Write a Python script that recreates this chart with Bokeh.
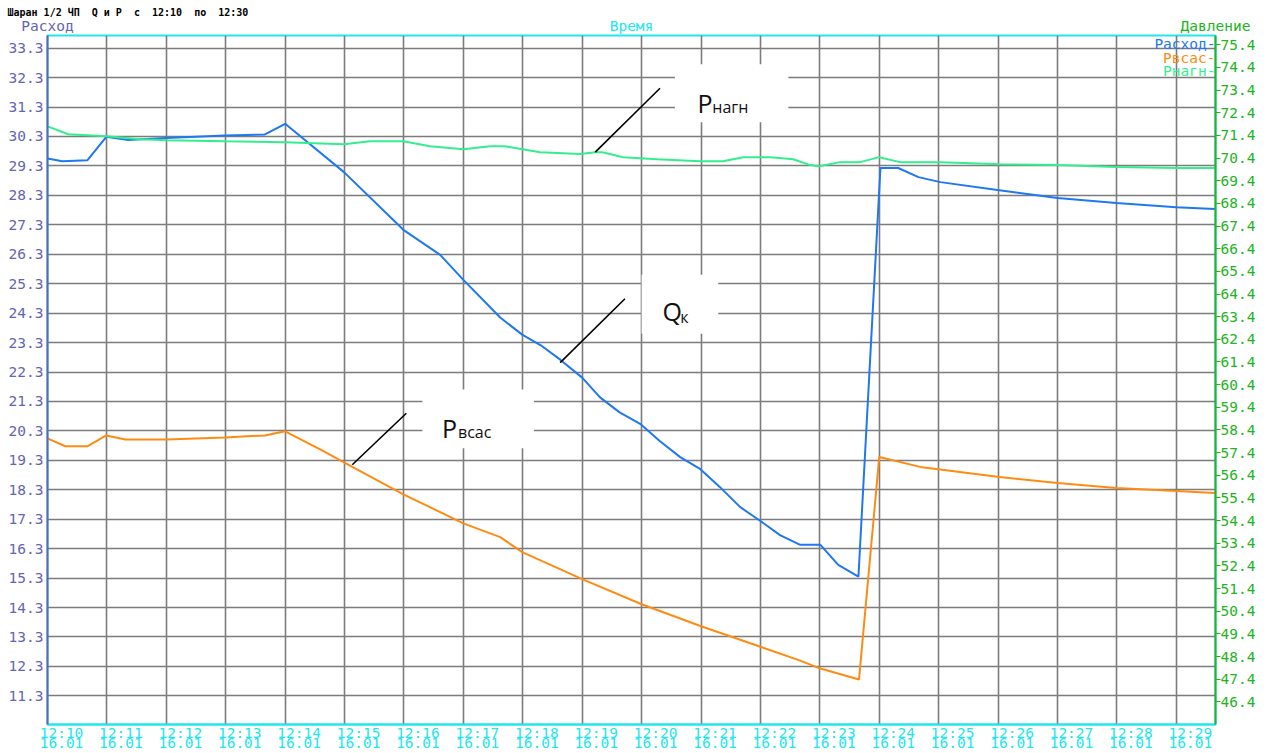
from bokeh.plotting import figure
from bokeh.layouts import column
from bokeh.models import (Range1d, LinearAxis, FixedTicker, CustomJSTickFormatter,
                          PrintfTickFormatter, Label)
from bokeh.embed import file_html
from bokeh.resources import INLINE

# ---------------- data ----------------
NB = "\u00a0"
title_text = f"Шаран 1/2 ЧП {NB}Q и P {NB}с {NB}12:10 {NB}по {NB}12:30"
x_title = "Время"
left_title = "Расход"
right_title = "Давление"
series_names = ["Расход-", "Рвсас-", "Рнагн-"]
time_labels = ["12:10", "12:11", "12:12", "12:13", "12:14", "12:15", "12:16", "12:17",
               "12:18", "12:19", "12:20", "12:21", "12:22", "12:23", "12:24", "12:25",
               "12:26", "12:27", "12:28", "12:29"]
date_labels = ["16.01"] * 20
left_ticks = [11.3, 12.3, 13.3, 14.3, 15.3, 16.3, 17.3, 18.3, 19.3, 20.3, 21.3, 22.3,
              23.3, 24.3, 25.3, 26.3, 27.3, 28.3, 29.3, 30.3, 31.3, 32.3, 33.3]
right_ticks = [46.4, 47.4, 48.4, 49.4, 50.4, 51.4, 52.4, 53.4, 54.4, 55.4, 56.4, 57.4,
               58.4, 59.4, 60.4, 61.4, 62.4, 63.4, 64.4, 65.4, 66.4, 67.4, 68.4, 69.4,
               70.4, 71.4, 72.4, 73.4, 74.4, 75.4]

# minutes after 12:10
q_t = [0.0, 0.25, 0.67, 0.99, 1.36, 2.0, 2.99, 3.66, 4.0, 4.99, 5.99, 6.61, 7.0, 7.62,
       7.99, 8.31, 8.63, 9.0, 9.30, 9.63, 9.99, 10.31, 10.65, 10.99, 11.32, 11.66, 12.0,
       12.33, 12.67, 13.01, 13.31, 13.65, 14.02, 14.32, 14.66, 15.03, 15.99, 17.0, 17.99,
       19.0, 19.65]
q_v = [29.55, 29.46, 29.49, 30.29, 30.18, 30.25, 30.33, 30.37, 30.73, 29.09, 27.13, 26.28,
       25.43, 24.15, 23.57, 23.20, 22.72, 22.11, 21.44, 20.93, 20.52, 19.95, 19.41, 19.0,
       18.39, 17.71, 17.24, 16.76, 16.43, 16.43, 15.75, 15.35, 29.23, 29.23, 28.92, 28.75,
       28.48, 28.21, 28.04, 27.90, 27.84]

ps_t = [0.0, 0.30, 0.67, 0.99, 1.31, 2.0, 2.99, 3.66, 4.0, 4.59, 4.99, 5.99, 7.0, 7.62,
        7.99, 9.0, 9.99, 10.99, 12.0, 12.67, 13.01, 13.66, 14.0, 14.69, 15.99, 17.0, 17.99,
        19.0, 19.65]
ps_v = [58.03, 57.68, 57.68, 58.16, 57.98, 57.98, 58.07, 58.16, 58.34, 57.54, 56.97, 55.56,
        54.28, 53.67, 53.01, 51.82, 50.72, 49.75, 48.83, 48.22, 47.87, 47.39, 57.21, 56.77,
        56.33, 56.06, 55.84, 55.71, 55.62]

pn_t = [0.0, 0.35, 0.99, 1.56, 2.0, 2.99, 4.0, 4.99, 5.43, 5.99, 6.44, 7.0, 7.45, 7.70,
        8.29, 8.97, 9.22, 9.34, 9.69, 10.26, 10.99, 11.37, 11.71, 12.17, 12.55, 12.84,
        12.99, 13.34, 13.68, 14.0, 14.35, 15.03, 16.04, 17.0, 17.99, 19.0, 19.65]
pn_v = [71.80, 71.45, 71.36, 71.23, 71.19, 71.14, 71.10, 71.01, 71.14, 71.14, 70.92, 70.79,
        70.92, 70.92, 70.66, 70.58, 70.66, 70.66, 70.44, 70.35, 70.26, 70.26, 70.44, 70.44,
        70.35, 70.09, 70.04, 70.22, 70.22, 70.44, 70.22, 70.22, 70.13, 70.09, 70.00, 69.96,
        69.96]

# ---------------- style / layout ----------------
MONO = "DejaVu Sans Mono"
C_LEFT = "#6464b4"
C_RIGHT = "#22b422"
C_X = "#22e6ee"
C_Q = "#1f78f0"
C_PS = "#ff8c12"
C_PN = "#33ee8e"

W = 1273
HEAD_H = 34
MAIN_H = 719
FRAME_L = 47
FRAME_R = 1215

# header strip carrying the title row and the axis captions (pixel coordinates)
head = figure(width=W, height=HEAD_H, output_backend="svg", toolbar_location=None,
              x_range=Range1d(0, W), y_range=Range1d(HEAD_H, 0),
              x_axis_location=None, y_axis_location=None,
              min_border_left=0, min_border_right=0, min_border_top=0, min_border_bottom=0)
head.frame_align = False
head.grid.visible = False
head.outline_line_color = None
head.add_layout(Label(x=7, y=12, text=title_text, text_font=MONO, text_font_size="10px",
                      text_font_style="bold", text_color="black", text_baseline="middle"))
CAP_Y = 25.5
head.add_layout(Label(x=FRAME_L, y=CAP_Y, text=left_title, text_font=MONO,
                      text_font_size="14.5px", text_color=C_LEFT, text_baseline="middle",
                      text_align="center"))
head.add_layout(Label(x=(FRAME_L + FRAME_R) / 2, y=CAP_Y, text=x_title, text_font=MONO,
                      text_font_size="14.5px", text_color=C_X, text_baseline="middle",
                      text_align="center"))
head.add_layout(Label(x=FRAME_R, y=CAP_Y, text=right_title, text_font=MONO,
                      text_font_size="14.5px", text_color=C_RIGHT, text_baseline="middle",
                      text_align="center"))

p = figure(width=W, height=MAIN_H, output_backend="svg", toolbar_location=None,
           x_range=Range1d(0, 19.66), y_range=Range1d(10.328, 33.730),
           min_border_left=FRAME_L, min_border_right=W - FRAME_R, min_border_top=1,
           min_border_bottom=27,
           background_fill_color="white", border_fill_color="white")
p.frame_align = False
p.outline_line_color = C_X
p.outline_line_width = 2
p.extra_y_ranges = {"pres": Range1d(45.401, 75.809)}

# grids
p.xgrid[0].ticker = FixedTicker(ticks=list(range(20)))
p.ygrid[0].ticker = FixedTicker(ticks=left_ticks)
for g in (p.xgrid[0], p.ygrid[0]):
    g.grid_line_color = "#7c7c7c"
    g.grid_line_width = 1.6

# left axis
ya = p.yaxis[0]
ya.ticker = FixedTicker(ticks=left_ticks)
ya.formatter = PrintfTickFormatter(format="%.1f")
ya.axis_line_color = C_LEFT
ya.axis_line_width = 2
ya.major_tick_out = 0
ya.major_tick_in = 0
ya.minor_tick_out = 0
ya.minor_tick_in = 0
ya.major_label_text_font = MONO
ya.major_label_text_font_size = "14.5px"
ya.major_label_text_color = C_LEFT
ya.major_label_standoff = 4

# right axis
ra = LinearAxis(y_range_name="pres", ticker=FixedTicker(ticks=right_ticks),
                formatter=PrintfTickFormatter(format="%.1f"))
ra.axis_line_color = C_RIGHT
ra.axis_line_width = 2
ra.major_tick_out = 5
ra.major_tick_in = 0
ra.major_tick_line_color = C_RIGHT
ra.minor_tick_out = 0
ra.minor_tick_in = 0
ra.major_label_text_font = MONO
ra.major_label_text_font_size = "14.5px"
ra.major_label_text_color = C_RIGHT
ra.major_label_standoff = 0
p.add_layout(ra, "right")

# bottom axis (labels start a little left of each minute line)
xa = p.xaxis[0]
xa.ticker = FixedTicker(ticks=[i + 0.236 for i in range(len(time_labels))])
xa.formatter = CustomJSTickFormatter(args=dict(t=time_labels, d=date_labels),
                                     code="const i = Math.round(tick); return t[i] + '\\n' + d[i];")
xa.axis_line_color = C_X
xa.axis_line_width = 2
xa.major_tick_out = 0
xa.major_tick_in = 0
xa.minor_tick_out = 0
xa.minor_tick_in = 0
xa.major_label_text_font = MONO
xa.major_label_text_font_size = "14.5px"
xa.major_label_text_color = C_X
xa.major_label_text_line_height = 0.63
xa.major_label_standoff = 0

# data lines
p.line(q_t, q_v, line_color=C_Q, line_width=2)
p.line(ps_t, ps_v, line_color=C_PS, line_width=2, y_range_name="pres")
p.line(pn_t, pn_v, line_color=C_PN, line_width=2, y_range_name="pres")

# annotation boxes and leader lines
p.quad(left=[10.56, 10.0, 6.31], right=[12.47, 11.29, 8.19],
       top=[32.75, 25.60, 21.71], bottom=[30.78, 23.60, 19.71],
       fill_color="white", line_color=None)
p.segment(x0=[10.31, 9.72, 6.04], y0=[31.94, 24.79, 20.90],
          x1=[9.22, 8.63, 5.13], y1=[29.77, 22.62, 19.15],
          line_color="black", line_width=1.6)

ANN_FONT = "Open Sans"
for x, y, txt, size in [(10.94, 31.43, "P", "25px"), (11.19, 31.29, "нагн", "16px"),
                        (10.35, 24.38, "Q", "25px"), (10.65, 24.18, "к", "16px"),
                        (6.64, 20.39, "P", "25px"), (6.91, 20.25, "всас", "16px")]:
    p.add_layout(Label(x=x, y=y, text=txt, text_font=ANN_FONT, text_font_size=size,
                       text_color="#111111", text_baseline="alphabetic", text_align="left"))

# series legend, right aligned at the pressure axis
for y, txt, col in [(33.43, series_names[0], C_Q), (32.95, series_names[1], C_PS),
                    (32.51, series_names[2], C_PN)]:
    p.add_layout(Label(x=19.66, y=y, text=txt, text_font=MONO, text_font_size="14.5px",
                       text_color=col, text_baseline="middle", text_align="right"))

layout = column(head, p, spacing=0)
open("out.html", "w").write(file_html(layout, INLINE))
